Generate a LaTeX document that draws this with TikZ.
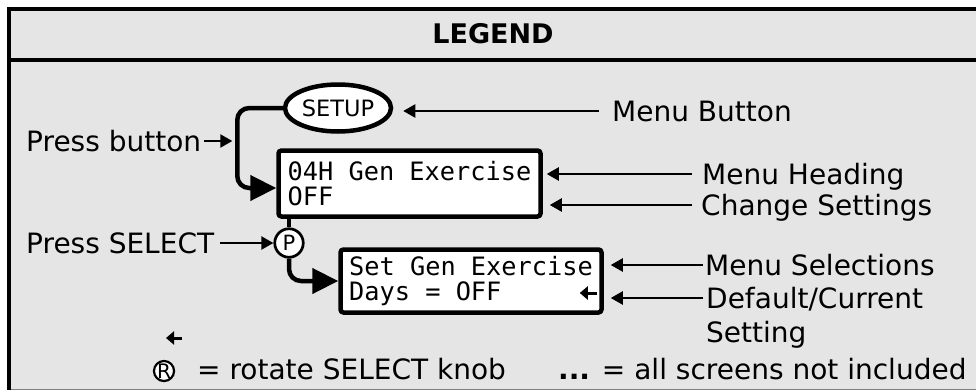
\documentclass[tikz,border=0pt]{standalone}
\usepackage{fontspec}
\setmainfont{DejaVu Sans}
\setmonofont{DejaVu Sans Mono}
\usetikzlibrary{arrows.meta,shapes.geometric}
\definecolor{bg}{HTML}{E5E5E5}
\definecolor{edge}{HTML}{808080}
\begin{document}
\begin{tikzpicture}[x=1pt,y=-1pt,
  lbl/.style={inner sep=0pt, anchor=base west, text height=20pt, text depth=0pt,
    font=\fontsize{28}{30}\selectfont},
  flow/.style={line width=4.5pt, -{Triangle[length=26pt,width=25pt]}, rounded corners=12pt},
  ptr/.style={line width=2.2pt, -{Triangle[length=12pt,width=13pt]}},
  minitip/.style={line width=3pt, -{Triangle[length=8pt,width=13pt]}},
  screen/.style={draw, line width=4.5pt, fill=white, rounded corners=3pt, inner sep=0pt,
    align=left, font=\fontsize{25.3}{25}\selectfont\ttfamily},
  knob/.style={draw, circle, fill=white, inner sep=0pt}
]
\clip (0,0) rectangle (976,391);
\fill[white] (0,0) rectangle (976,391);
% frame
\fill[bg] (9,8.5) rectangle (995,389);
\draw[edge, line width=1.6pt] (9,389.5) -- (995,389.5);
\draw[line width=4pt] (995,8.5) -- (9,8.5) -- (9,390);
\draw[line width=4pt] (9,59.5) -- (995,59.5);
\node[font=\bfseries\fontsize{27}{30}\selectfont, anchor=base, inner sep=0pt] (legend) at (493,43) {LEGEND};

% shapes
\node[draw, ellipse, line width=4.5pt, fill=white, minimum width=106pt, minimum height=47pt,
  inner sep=0pt, font=\fontsize{22.5}{24}\selectfont] (setup) at (338,108) {SETUP};
\node[screen, minimum width=262pt, minimum height=66pt] (box1) at (409.5,183.5)
  {04H Gen Exercise\\OFF};
\node[knob, line width=2.7pt, minimum size=28.5pt, font=\fontsize{21}{21}\selectfont] (p) at (289,243) {P};
\node[screen, minimum width=261pt, minimum height=63pt] (box2) at (471,281)
  {Set Gen Exercise\\Days = OFF};

% flow connectors
\draw[flow] (setup.west) -| ([xshift=-39pt,yshift=-4.5pt]box1.west) -- ([yshift=-4.5pt]box1.west);
\draw[line width=4.5pt] (box1.south -| p.north) -- (p.north);
\draw[flow] (p.south) |- (box2.west);
\draw[minitip] ([xshift=-7pt,yshift=-12pt]box2.east) -- ++(-17,0);

% left labels
\node[lbl] (pb) at (26,151) {Press button};
\draw[ptr, shorten <=3pt] (pb.east) -- ++(31,0);
\node[lbl] (ps) at (26,253) {Press SELECT};
\draw[ptr, shorten <=6pt] (ps.east |- p.west) -- (p.west);

% right labels
\node[lbl] (mb) at (612,121) {Menu Button};
\draw[ptr, shorten >=10pt] ([xshift=-13pt]mb.west) -- (setup.east |- mb.west);
\node[lbl] (mh) at (702,184) {Menu Heading};
\draw[ptr, shorten >=4pt] ([xshift=-10pt]mh.west) -- (box1.east |- mh.west);
\node[lbl] (cs) at (701,215) {Change Settings};
\draw[ptr, shorten >=7pt] ([xshift=-9pt]cs.west) -- (box1.east |- cs.west);
\node[lbl] (ms) at (705,275) {Menu Selections};
\draw[ptr, shorten >=7pt] ([xshift=-2pt]ms.west) -- (box2.east |- ms.west);
\node[lbl] (dc) at (706,308) {Default/Current};
\draw[ptr, shorten >=7pt] ([xshift=-3pt]dc.west) -- (box2.east |- dc.west);
\node[lbl] (st) at (706,342) {Setting};

% bottom key
\node[knob, line width=2.2pt, minimum size=20pt, font=\fontsize{20}{20}\selectfont] (r) at (164,371) {R};
\draw[minitip] ([xshift=18pt,yshift=33pt]r.center) -- ++(-16,0);
\node[lbl] (rt) at (197,379) {= rotate SELECT knob};
\node[lbl] (dots) at (558,379) {\textbf{...} = all screens not included};
\end{tikzpicture}
\end{document}
